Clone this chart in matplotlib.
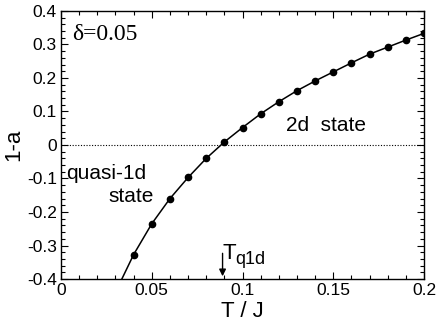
import numpy as np
from matplotlib import pyplot as plt
from matplotlib.ticker import MultipleLocator

plt.rcParams['font.family'] = ['Liberation Sans', 'DejaVu Sans']

# data points
T = [0.04, 0.05, 0.06, 0.07, 0.08, 0.09, 0.10, 0.11, 0.12, 0.13,
     0.14, 0.15, 0.16, 0.17, 0.18, 0.19, 0.20]
one_minus_a = [-0.327, -0.235, -0.160, -0.097, -0.040, 0.009, 0.052, 0.093, 0.129,
               0.162, 0.191, 0.218, 0.245, 0.271, 0.292, 0.313, 0.333]
# the curve runs on below the first point to the frame
curve_start = (0.0335, -0.40)
T_q1d = 0.089

fig = plt.figure(figsize=(4.36, 3.31), dpi=100)
ax = fig.add_axes([0.14, 0.157, 0.8325, 0.81])

ax.plot([curve_start[0]] + T, [curve_start[1]] + one_minus_a, color='k', lw=1.1)
ax.plot(T, one_minus_a, 'o', color='k', ms=4.5)
ax.axhline(0, color='k', lw=0.8, ls=(0, (1, 1.5)))

ax.set_xlim(0, 0.2)
ax.set_ylim(-0.4, 0.4)
ax.xaxis.set_minor_locator(MultipleLocator(0.01))
ax.yaxis.set_minor_locator(MultipleLocator(0.02))
ax.set_xticks([0, 0.05, 0.1, 0.15, 0.2])
ax.set_xticklabels(['0', '0.05', '0.1', '0.15', '0.2'])
ax.set_yticks(np.round(np.arange(-0.4, 0.41, 0.1), 1))
ax.set_yticklabels(['-0.4', '-0.3', '-0.2', '-0.1', '0', '0.1', '0.2', '0.3', '0.4'])
ax.tick_params(which='both', direction='in', top=True, right=True, labelsize=12.5, width=0.8)
ax.tick_params(which='major', length=5, pad=3)
ax.tick_params(which='minor', length=3)
for s in ax.spines.values():
    s.set_linewidth(1.0)

ax.set_xlabel('T / J', fontsize=16, labelpad=2)
ax.set_ylabel('1-a', fontsize=16, labelpad=2)

ax.text(0.006, 0.33, 'δ=0.05', family='Liberation Serif', fontsize=17, va='center')
ax.text(0.124, 0.03, '2d  state', fontsize=15, va='bottom')
ax.text(0.003, -0.085, 'quasi-1d', fontsize=15, va='center', ha='left')
ax.text(0.026, -0.155, 'state', fontsize=15, va='center', ha='left')

ax.annotate('', xy=(T_q1d, -0.4), xytext=(T_q1d, -0.315),
            arrowprops=dict(arrowstyle='-|>', color='k', lw=1.0, mutation_scale=10))
ax.text(T_q1d + 0.0002, -0.325, 'T', fontsize=16, va='center')
ax.text(T_q1d + 0.0072, -0.343, 'q1d', fontsize=13, va='center')

fig.savefig('out.png', dpi=100)
